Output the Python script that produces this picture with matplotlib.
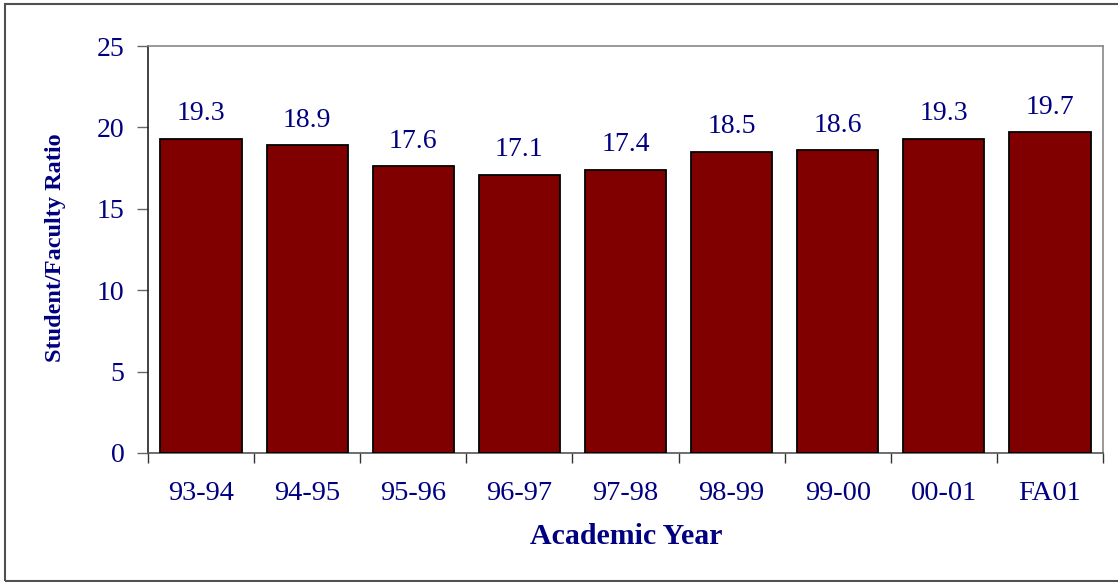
import matplotlib.pyplot as plt
from matplotlib.patches import Rectangle

years = ["93-94", "94-95", "95-96", "96-97", "97-98", "98-99", "99-00", "00-01", "FA01"]
ratio = [19.3, 18.9, 17.6, 17.1, 17.4, 18.5, 18.6, 19.3, 19.7]

navy = "#000080"
plt.rcParams["font.family"] = ["Liberation Serif", "DejaVu Serif"]

W, H = 1118, 582
fig = plt.figure(figsize=(W / 100, H / 100), dpi=100)
ax = fig.add_axes([148 / W, 1 - 453 / H, (1103 - 148) / W, (453 - 46) / H])

x = list(range(len(years)))
ax.bar(x, ratio, width=0.765, color="#800000", edgecolor="black", linewidth=1.3, zorder=3)
for xi, v in zip(x, ratio):
    ax.annotate(f"{v:.1f}", (xi, v), xytext=(0, 18), textcoords="offset points",
                ha="center", va="center", fontsize=20, color=navy)

ax.set_xlim(-0.5, len(years) - 0.5)
ax.set_ylim(0, 25)
ax.set_yticks(range(0, 26, 5))
ax.set_xticks(x)
ax.set_xticklabels(years)
ax.set_xticks([i + 0.5 for i in range(-1, len(years))], minor=True)
ax.tick_params(axis="x", which="major", length=0, pad=20, labelsize=20.5, labelcolor=navy)
ax.tick_params(axis="x", which="minor", length=7, width=1, color="#333333", direction="out")
ax.tick_params(axis="y", length=8, width=1, color="#666666", pad=9, labelsize=20, labelcolor=navy)

for side in ["top", "right"]:
    ax.spines[side].set_color("#888888")
    ax.spines[side].set_linewidth(1.2)
ax.spines["left"].set_color("#222222")
ax.spines["bottom"].set_color("#555555")
ax.spines["left"].set_linewidth(1.2)
ax.spines["bottom"].set_linewidth(1.2)

fig.text(56 / W, 1 - 248 / H, "Student/Faculty Ratio", rotation=90, ha="center", va="center",
         fontsize=17.5, fontweight="bold", color=navy)
fig.text(626 / W, 1 - 537 / H, "Academic Year", ha="center", va="center",
         fontsize=21.5, fontweight="bold", color=navy)

fig.patches.append(Rectangle((5 / W, 1 / H), 1.2, (581 - 4) / H, transform=fig.transFigure,
                             fill=False, edgecolor="#505050", linewidth=1.5))

fig.savefig("out.png", dpi=100)
